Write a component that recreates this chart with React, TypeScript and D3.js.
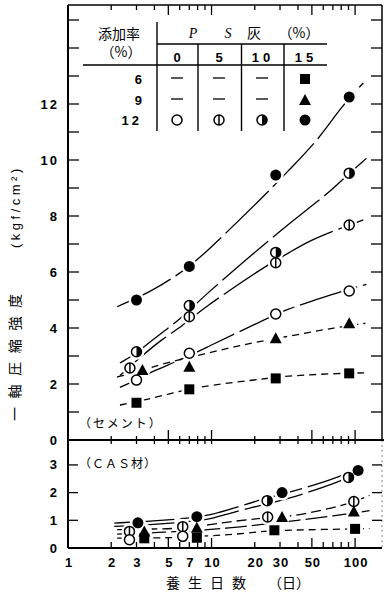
import React from 'react';
import * as d3 from 'd3';

const W = 384;
const H = 592;

// セメント: measured strength at each curing age (days)
const cemDays = [3, 7, 28, 91];
const cemVertDays = [2.7, 7, 28, 91];
const cemTriDays = [3.3, 7, 28, 91];
const cemFilled = [5.0, 6.2, 9.46, 12.25];
const cemHalf = [3.15, 4.8, 6.7, 9.53];
const cemVert = [2.57, 4.4, 6.33, 7.68];
const cemOpen = [2.14, 3.1, 4.5, 5.32];
const cemTri = [2.5, 2.62, 3.63, 4.17];
const cemSq = [1.33, 1.81, 2.2, 2.38];

// trend curves, [day, value]
const cemFilledFit = [[2.2, 4.76], [3.8, 5.3], [6, 5.95], [8.2, 6.45], [25.6, 8.93], [34.6, 9.64], [55, 10.7], [80, 11.9], [114, 12.75]];
const cemHalfFit = [[2.3, 2.75], [3, 3.1], [3.6, 3.45], [6.2, 4.35], [8.4, 5.05], [28, 7.35], [49, 8.33], [69, 8.93], [88, 9.46], [120, 10.06]];
const cemVertFit = [[2.3, 2.3], [3.1, 2.9], [4.5, 3.6], [6.2, 4.05], [8.7, 4.7], [23, 6.17], [35, 6.7], [49, 7.14], [79, 7.56], [114, 7.86]];
const cemOpenFit = [[2.3, 1.88], [3, 2.14], [3.8, 2.44], [6.1, 2.86], [9.4, 3.33], [22, 4.23], [34.6, 4.7], [49, 4.94], [79, 5.3], [120, 5.56]];
const cemTriFit = [[2.2, 2.25], [3, 2.42], [3.8, 2.6], [5.8, 2.86], [8.4, 3.04], [16, 3.39], [28, 3.62], [79, 4.05], [118, 4.17]];
const cemSqFit = [[2.3, 1.25], [3, 1.36], [3.8, 1.49], [6.5, 1.78], [9.4, 1.95], [24.5, 2.2], [35.5, 2.3], [79, 2.38], [123, 2.4]];

// CAS材
const casFilledDays = [3.07, 7.9, 31, 105];
const casFilled = [0.91, 1.13, 2.0, 2.8];
const casHalfDays = [24.4, 90];
const casHalf = [1.71, 2.55];
const casVertDays = [2.68, 6.3, 24.6, 98];
const casVert = [0.6, 0.77, 1.12, 1.68];
const casOpenDays = [2.68, 6.3];
const casOpen = [0.3, 0.42];
const casTriDays = [3.4, 7.9, 31, 98];
const casTri = [0.6, 0.73, 1.12, 1.32];
const casSqDays = [3.4, 7.9, 27.4, 100];
const casSq = [0.35, 0.37, 0.64, 0.69];

const casFilledFit = [[2.1, 0.9], [4, 0.97], [7, 1.08], [10, 1.2], [14, 1.42], [22, 1.75], [37, 2.05], [74, 2.5], [126, 3.07]];
const casHalfFit = [[2.1, 0.78], [4, 0.85], [7, 0.95], [10, 1.05], [14, 1.28], [22, 1.55], [32, 1.72], [74, 2.35], [126, 2.85]];
const casVertFit = [[2.2, 0.66], [4, 0.69], [6, 0.7], [10, 0.85], [14, 0.96], [22, 1.08], [36, 1.12], [88, 1.56], [126, 1.9]];
const casTriFit = [[2.2, 0.5], [4, 0.55], [7, 0.62], [13.6, 0.72], [22, 0.85], [40, 1.0], [70, 1.15], [126, 1.35]];
const casSqFit = [[2.2, 0.36], [4, 0.36], [6, 0.38], [10, 0.45], [14, 0.48], [22, 0.6], [30, 0.64], [60, 0.67], [126, 0.7]];

const xTicks = [2, 3, 4, 5, 6, 7, 8, 9, 10, 20, 30, 40, 50, 60, 70, 80, 90, 100];
const xLongTicks = [5, 10, 50, 100];
const xLabels = [1, 2, 3, 5, 7, 10, 20, 30, 50, 100];
const yUpLabels = [0, 2, 4, 6, 8, 10, 12];
const yUpTicks = d3.range(1, 16);
const yLoLabels = [0, 1, 2, 3];

const legendCols = ['0', '5', '10', '15'];
const legendRows = ['6', '9', '12'];

const NUM = "'Liberation Sans', Arial, sans-serif";
const JP = "'Noto Sans CJK JP', sans-serif";

const L = 68, R = 382, TOP = 5, MID = 440, BOT = 548;

const x = d3.scaleLog().domain([1, 154]).range([L, R]);
const yUp = d3.scaleLinear().domain([0, 15.5]).range([MID, MID - 15.5 * 28]);
const yLo = d3.scaleLinear().domain([0, 3.9]).range([BOT, MID]);

function Marker({ kind, cx, cy }) {
  const r = 5;
  if (kind === 'filled') return <circle cx={cx} cy={cy} r={5.5} fill="#000" />;
  if (kind === 'sq') return <rect x={cx - 5} y={cy - 5} width={10} height={10} fill="#000" />;
  if (kind === 'tri')
    return <path d={`M${cx},${cy - 6}L${cx + 6},${cy + 5}L${cx - 6},${cy + 5}Z`} fill="#000" />;
  return (
    <g>
      <circle cx={cx} cy={cy} r={r} fill="#fff" stroke="#000" strokeWidth={1.5} />
      {kind === 'vert' && <line x1={cx} x2={cx} y1={cy - r} y2={cy + r} stroke="#000" strokeWidth={1.5} />}
      {kind === 'half' && <path d={`M${cx},${cy - r}A${r},${r} 0 0 1 ${cx},${cy + r}Z`} fill="#000" />}
    </g>
  );
}

function Curve({ pts, y, dash }) {
  const line = d3
    .line()
    .x(d => x(d[0]))
    .y(d => y(d[1]))
    .curve(d3.curveBasis);
  return <path d={line(pts)} fill="none" stroke="#000" strokeWidth={1.3} strokeDasharray={dash} />;
}

const LONG = '60 6';
const SHORT = '7 5';

export default function App() {
  const upperSeries = [
    { kind: 'filled', days: cemDays, vals: cemFilled, fit: cemFilledFit, dash: LONG },
    { kind: 'half', days: cemDays, vals: cemHalf, fit: cemHalfFit, dash: LONG },
    { kind: 'vert', days: cemVertDays, vals: cemVert, fit: cemVertFit, dash: LONG },
    { kind: 'open', days: cemDays, vals: cemOpen, fit: cemOpenFit, dash: LONG },
    { kind: 'tri', days: cemTriDays, vals: cemTri, fit: cemTriFit, dash: SHORT },
    { kind: 'sq', days: cemDays, vals: cemSq, fit: cemSqFit, dash: SHORT },
  ];
  const lowerSeries = [
    { kind: 'filled', days: casFilledDays, vals: casFilled, fit: casFilledFit, dash: LONG },
    { kind: 'half', days: casHalfDays, vals: casHalf, fit: casHalfFit, dash: LONG },
    { kind: 'vert', days: casVertDays, vals: casVert, fit: casVertFit, dash: '10 5' },
    { kind: 'open', days: casOpenDays, vals: casOpen, fit: null, dash: LONG },
    { kind: 'tri', days: casTriDays, vals: casTri, fit: casTriFit, dash: '22 5' },
    { kind: 'sq', days: casSqDays, vals: casSq, fit: casSqFit, dash: SHORT },
  ];

  const panel = (series, y) => (
    <g>
      {series.map((s, i) => s.fit && <Curve key={'c' + i} pts={s.fit} y={y} dash={s.dash} />)}
      {series.map((s, i) =>
        s.days.map((d, j) => <circle key={`h${i}-${j}`} cx={x(d)} cy={y(s.vals[j])} r={8} fill="#fff" />)
      )}
      {series.map((s, i) =>
        s.days.map((d, j) => <Marker key={`m${i}-${j}`} kind={s.kind} cx={x(d)} cy={y(s.vals[j])} />)
      )}
    </g>
  );

  const colX = [177, 219, 262, 305];
  const rowY = [79, 100, 120];
  const row12 = ['open', 'vert', 'half', 'filled'];
  const col15 = ['sq', 'tri', 'filled'];

  return (
    <svg width={W} height={H} style={{ position: 'absolute', left: 0, top: 0, background: '#fff' }}>
      {panel(upperSeries, yUp)}
      {panel(lowerSeries, yLo)}

      {/* frame */}
      <line x1={L} x2={R} y1={TOP} y2={TOP} stroke="#000" strokeWidth={1.5} />
      <line x1={L} x2={L} y1={TOP} y2={BOT} stroke="#000" strokeWidth={2} />
      <line x1={R} x2={R} y1={TOP} y2={MID} stroke="#000" strokeWidth={1.5} />
      <line x1={R} x2={R} y1={MID} y2={BOT} stroke="#666" strokeWidth={0.8} strokeDasharray="2 3" />
      <line x1={L} x2={R + 2} y1={MID} y2={MID} stroke="#000" strokeWidth={2} />
      <line x1={L} x2={R} y1={BOT} y2={BOT} stroke="#000" strokeWidth={2.2} />

      {/* x ticks */}
      {xTicks.map(t => {
        const long = xLongTicks.includes(t);
        return (
          <g key={'xt' + t}>
            <line x1={x(t)} x2={x(t)} y1={TOP} y2={TOP + (long ? 10 : 5)} stroke="#000" strokeWidth={1.3} />
            <line x1={x(t)} x2={x(t)} y1={MID - (long ? 10 : 4)} y2={MID + 4} stroke="#000" strokeWidth={1.3} />
            <line x1={x(t)} x2={x(t)} y1={BOT} y2={BOT - (long ? 10 : 6)} stroke="#000" strokeWidth={1.3} />
          </g>
        );
      })}

      {/* y ticks */}
      {yUpTicks.map(t => (
        <g key={'yu' + t}>
          <line x1={L} x2={L + 11} y1={yUp(t)} y2={yUp(t)} stroke="#000" strokeWidth={1.3} />
          <line x1={R} x2={R - 11} y1={yUp(t)} y2={yUp(t)} stroke="#000" strokeWidth={1.3} />
        </g>
      ))}
      {[1, 2, 3].map(t => (
        <g key={'yl' + t}>
          <line x1={L} x2={L + 10} y1={yLo(t)} y2={yLo(t)} stroke="#000" strokeWidth={1.3} />
          <line x1={R} x2={R - 10} y1={yLo(t)} y2={yLo(t)} stroke="#000" strokeWidth={1.3} />
        </g>
      ))}

      {/* labels */}
      <g fontFamily={NUM} fontWeight="bold" fontSize={13}>
        {yUpLabels.map(t => (
          <text key={'lu' + t} x={59} y={yUp(t)} dy="0.35em" textAnchor="end" letterSpacing={2}>
            {t}
          </text>
        ))}
        {yLoLabels.map(t => (
          <text key={'ll' + t} x={59} y={yLo(t)} dy="0.35em" textAnchor="end" letterSpacing={2}>
            {t}
          </text>
        ))}
        {xLabels.map(t => (
          <text key={'lx' + t} x={x(t) + 1} y={567} textAnchor="middle" letterSpacing={1}>
            {t}
          </text>
        ))}
      </g>

      <text x={166} y={588} fontFamily={JP} fontSize={14} letterSpacing={8}>養生日数</text>
      <text x={268} y={588} fontFamily={JP} fontSize={14}>（日）</text>

      <g transform="translate(15,421) rotate(-90)">
        <text x={0} y={0} dy="0.35em" fontFamily={JP} fontSize={14} letterSpacing={8.6}>一軸圧縮強度</text>
      </g>
      <g transform="translate(15,248) rotate(-90)">
        <text x={0} y={0} dy="0.35em" fontFamily={NUM} fontSize={13} letterSpacing={3.5}>(kgf/cm²)</text>
      </g>

      <text x={79} y={428} fontFamily={JP} fontSize={12} letterSpacing={2}>（セメント）</text>
      <text x={79} y={468} fontFamily={JP} fontSize={12} letterSpacing={1}>（ＣＡＳ材）</text>

      {/* legend table */}
      <g>
        <text x={119} y={39} textAnchor="middle" fontFamily={JP} fontSize={14}>添加率</text>
        <text x={121} y={57} textAnchor="middle" fontFamily={JP} fontSize={14}>（%）</text>
        <text x={193} y={38} textAnchor="middle" fontFamily="'Liberation Serif', serif" fontStyle="italic" fontSize={14}>P</text>
        <text x={228} y={38} textAnchor="middle" fontFamily="'Liberation Serif', serif" fontStyle="italic" fontSize={14}>S</text>
        <text x={254} y={38} textAnchor="middle" fontFamily={JP} fontSize={14}>灰</text>
        <text x={299} y={38} textAnchor="middle" fontFamily={JP} fontSize={14}>（%）</text>
        <line x1={157} x2={157} y1={22} y2={131} stroke="#000" strokeWidth={1.4} />
        <line x1={157} x2={327} y1={44} y2={44} stroke="#000" strokeWidth={1.4} />
        <line x1={83} x2={327} y1={65} y2={65} stroke="#000" strokeWidth={1.4} />
        {[198, 241.5, 284].map(v => (
          <line key={'cs' + v} x1={v} x2={v} y1={44} y2={131} stroke="#000" strokeWidth={1.4} />
        ))}
        {legendCols.map((c, i) => (
          <text key={'lc' + c} x={colX[i] + (c.length > 1 ? 1 : 0)} y={62} textAnchor="middle" fontFamily={NUM} fontWeight="bold" fontSize={13} letterSpacing={c.length > 1 ? 4 : 0}>
            {c}
          </text>
        ))}
        {legendRows.map((r, i) => (
          <text key={'lr' + r} x={142} y={rowY[i]} dy="0.35em" textAnchor="end" fontFamily={NUM} fontWeight="bold" fontSize={13} letterSpacing={r.length > 1 ? 3 : 0}>
            {r}
          </text>
        ))}
        {[0, 1].map(ri =>
          [0, 1, 2].map(ci => (
            <line key={`d${ri}${ci}`} x1={colX[ci] - 6} x2={colX[ci] + 6} y1={rowY[ri] - 1} y2={rowY[ri] - 1} stroke="#000" strokeWidth={1.3} />
          ))
        )}
        {row12.map((k, i) => (
          <Marker key={'r12' + i} kind={k} cx={colX[i]} cy={rowY[2]} />
        ))}
        {col15.slice(0, 2).map((k, i) => (
          <Marker key={'c15' + i} kind={k} cx={colX[3]} cy={rowY[i]} />
        ))}
      </g>
    </svg>
  );
}
